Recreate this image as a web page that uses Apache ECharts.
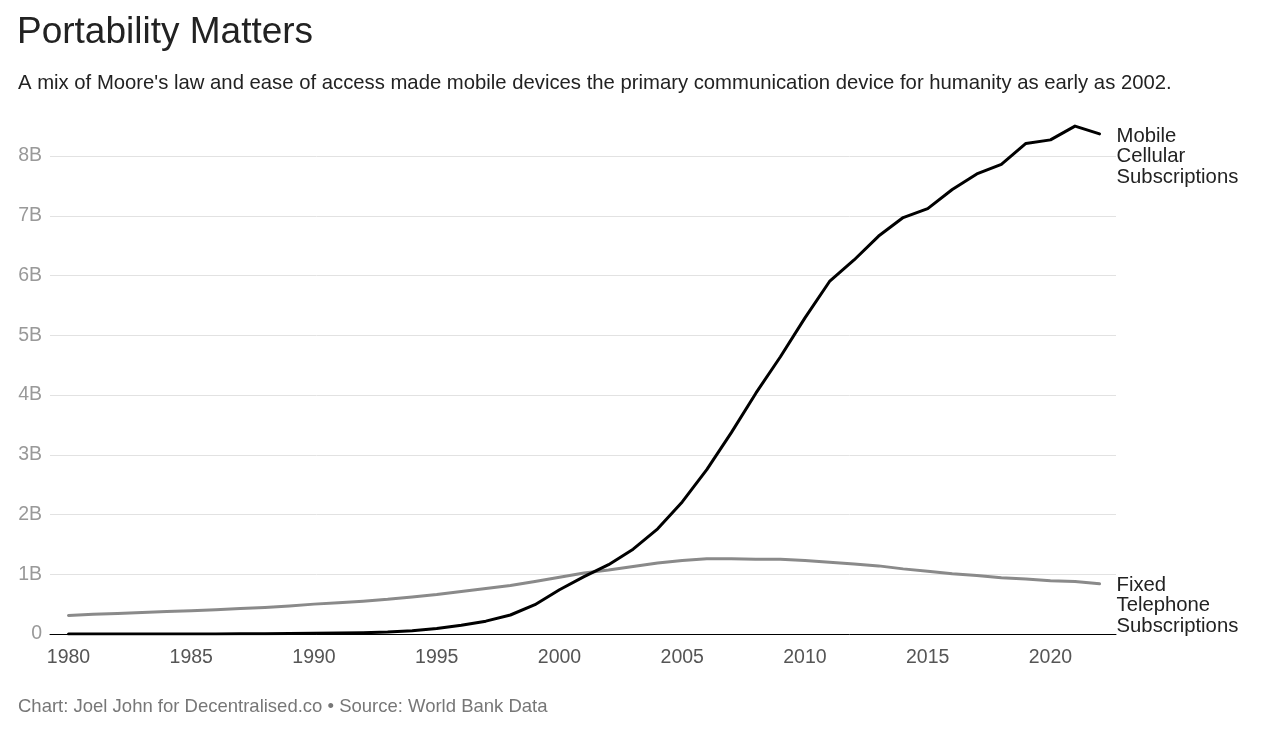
<!DOCTYPE html>
<html>
<head>
<meta charset="utf-8">
<script src="https://cdn.jsdelivr.net/npm/echarts@6/dist/echarts.min.js"></script>
<style>
  html, body { margin: 0; padding: 0; background: #ffffff; }
  #chart { width: 1272px; height: 736px; }
</style>
</head>
<body>
<div id="chart"></div>
<script>
// ---- Data (billions of subscriptions, World Bank) ----
const titleText = 'Portability Matters';
const subtitleText = "A mix of Moore's law and ease of access made mobile devices the primary communication device for humanity as early as 2002.";
const footerText = 'Chart: Joel John for Decentralised.co \u2022 Source: World Bank Data';

const years = [1980,1981,1982,1983,1984,1985,1986,1987,1988,1989,
               1990,1991,1992,1993,1994,1995,1996,1997,1998,1999,
               2000,2001,2002,2003,2004,2005,2006,2007,2008,2009,
               2010,2011,2012,2013,2014,2015,2016,2017,2018,2019,
               2020,2021,2022];

const mobileCellular = [0.00002,0.00005,0.0001,0.0002,0.0005,0.0008,0.0015,0.003,0.004,0.007,
                        0.011,0.016,0.023,0.034,0.056,0.091,0.145,0.215,0.318,0.49,
                        0.74,0.96,1.16,1.42,1.76,2.21,2.75,3.37,4.03,4.64,
                        5.29,5.90,6.26,6.66,6.97,7.12,7.44,7.70,7.86,8.21,
                        8.27,8.50,8.37];

const fixedTelephone = [0.31,0.33,0.345,0.36,0.375,0.39,0.405,0.425,0.445,0.47,
                        0.50,0.525,0.55,0.58,0.62,0.66,0.71,0.76,0.81,0.88,
                        0.95,1.02,1.07,1.13,1.19,1.23,1.26,1.26,1.25,1.25,
                        1.23,1.20,1.17,1.14,1.09,1.05,1.01,0.98,0.94,0.92,
                        0.89,0.88,0.84];

const xTickYears = [1980,1985,1990,1995,2000,2005,2010,2015,2020];
const yTickValues = [0,1,2,3,4,5,6,7,8];

const mobileLabel = 'Mobile\nCellular\nSubscriptions';
const fixedLabel = 'Fixed\nTelephone\nSubscriptions';

const FONT = '"Liberation Sans", Arial, Helvetica, sans-serif';

const chart = echarts.init(document.getElementById('chart'), null, { renderer: 'canvas' });

const option = {
  backgroundColor: '#ffffff',
  animation: false,
  textStyle: { fontFamily: FONT },
  title: [
    {
      text: titleText, left: 17, top: 14, padding: 0,
      textStyle: { fontFamily: FONT, fontSize: 37, fontWeight: 'normal', color: '#222222' }
    },
    {
      text: subtitleText, left: 18, top: 73, padding: 0,
      textStyle: { fontFamily: FONT, fontSize: 20.3, fontWeight: 'normal', color: '#222222' }
    },
    {
      text: footerText, left: 18, top: 697, padding: 0,
      textStyle: { fontFamily: FONT, fontSize: 18.5, fontWeight: 'normal', color: '#777777' }
    }
  ],
  grid: { left: 50, right: 156, top: 96.25, bottom: 102, containLabel: false },
  xAxis: {
    type: 'value',
    min: 1979.246,
    max: 2022.67,
    axisLine: { show: true, onZero: true, lineStyle: { color: '#000000', width: 1 } },
    axisTick: { show: false },
    splitLine: { show: false },
    axisLabel: {
      customValues: xTickYears,
      formatter: v => String(Math.round(v)),
      color: '#555555', fontSize: 19.5, fontFamily: FONT, margin: 14
    }
  },
  yAxis: {
    type: 'value',
    min: 0, max: 9, interval: 1,
    axisLine: { show: false },
    axisTick: { show: false },
    splitLine: { show: true, showMaxLine: false, lineStyle: { color: '#e2e2e2', width: 1 } },
    axisLabel: {
      customValues: yTickValues,
      formatter: v => (v === 0 ? '0' : v + 'B'),
      color: '#999999', fontSize: 19.5, fontFamily: FONT, margin: 8
    }
  },
  series: [
    {
      name: 'Fixed Telephone Subscriptions',
      type: 'line',
      data: years.map((y, i) => [y, fixedTelephone[i]]),
      showSymbol: false,
      symbol: 'none',
      lineStyle: { color: '#8a8a8a', width: 3, join: 'round', cap: 'round' },
      z: 2,
      endLabel: {
        show: true,
        formatter: () => fixedLabel,
        color: '#222222', fontSize: 20.3, fontFamily: FONT, lineHeight: 20.5,
        align: 'left', verticalAlign: 'middle',
        distance: 17, offset: [0, 22]
      }
    },
    {
      name: 'Mobile Cellular Subscriptions',
      type: 'line',
      data: years.map((y, i) => [y, mobileCellular[i]]),
      showSymbol: false,
      symbol: 'none',
      lineStyle: { color: '#000000', width: 3, join: 'round', cap: 'round' },
      z: 3,
      endLabel: {
        show: true,
        formatter: () => mobileLabel,
        color: '#222222', fontSize: 20.3, fontFamily: FONT, lineHeight: 20.5,
        align: 'left', verticalAlign: 'middle',
        distance: 17, offset: [0, 23]
      }
    }
  ]
};

chart.setOption(option);
</script>
</body>
</html>
